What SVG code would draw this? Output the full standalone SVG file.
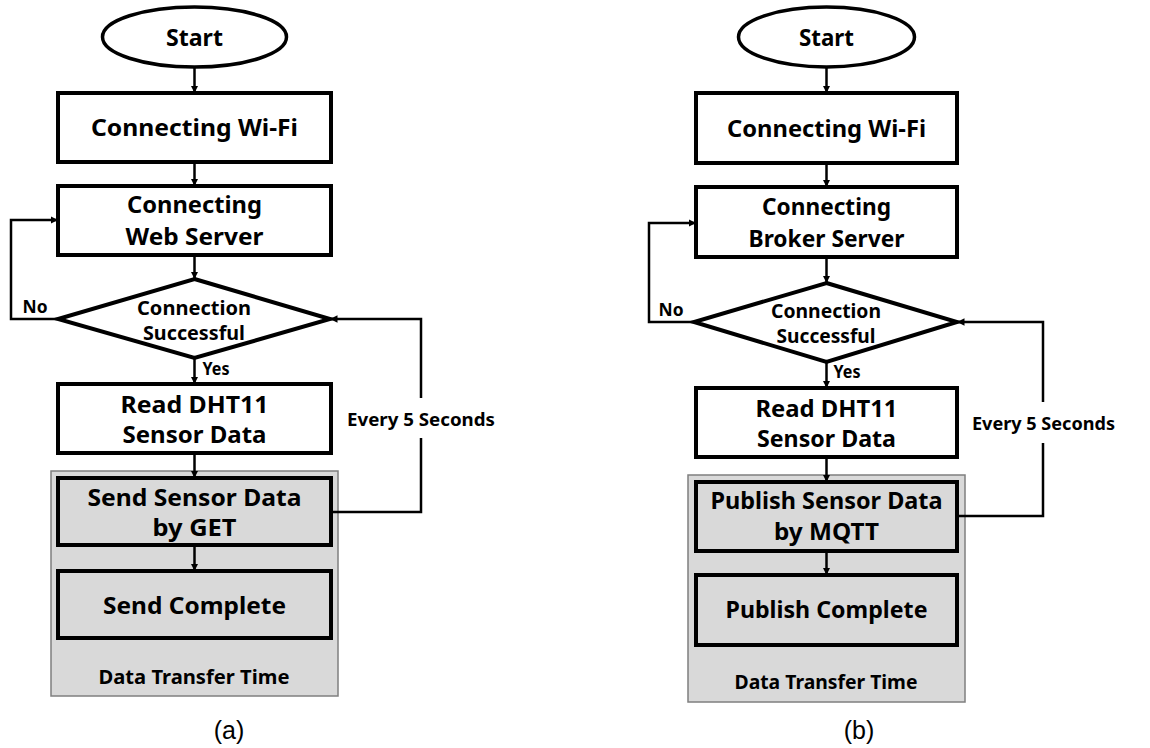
<svg xmlns="http://www.w3.org/2000/svg" width="1150" height="748" viewBox="0 0 1150 748">
<style>
text{font-family:"Noto Sans","Open Sans","Liberation Sans",sans-serif;font-weight:bold;fill:#000;text-anchor:middle}
.box{fill:#fff;stroke:#000;stroke-width:4}
.gbox{fill:#d9d9d9;stroke:#000;stroke-width:4}
.cont{fill:#d9d9d9;stroke:#7f7f7f;stroke-width:1.5}
.term{fill:#fff;stroke:#000;stroke-width:3.5}
.dia{fill:#fff;stroke:#000;stroke-width:4}
.ln{fill:none;stroke:#000;stroke-width:2.5}
.big{font-size:24px}
.mid{font-size:19px}
.sm{font-size:17px}
.cap{font-weight:normal;font-size:25px;font-family:"Liberation Sans",Arial,sans-serif}
</style>
<defs>
<marker id="ah" viewBox="0 0 10 10" refX="10" refY="5" markerWidth="3" markerHeight="3" markerUnits="strokeWidth" orient="auto">
<path d="M0,0 L10,5 L0,10 z" fill="#000"/>
</marker>
</defs>
<rect width="1150" height="748" fill="#fff"/>

<!-- containers -->
<g id="cont-a"><rect class="cont" x="51" y="471" width="287" height="225"/><text class="mid" x="194" y="684" textLength="191" lengthAdjust="spacingAndGlyphs">Data Transfer Time</text></g>
<g id="cont-b"><rect class="cont" x="688" y="475" width="277" height="227"/><text class="mid" x="826" y="689" textLength="183" lengthAdjust="spacingAndGlyphs">Data Transfer Time</text></g>

<g id="connectors">
<!-- a -->
<line class="ln" x1="194.5" y1="67" x2="194.5" y2="93" marker-end="url(#ah)"/>
<line class="ln" x1="194.5" y1="162" x2="194.5" y2="186" marker-end="url(#ah)"/>
<line class="ln" x1="194.5" y1="255" x2="194.5" y2="279" marker-end="url(#ah)"/>
<line class="ln" x1="194.5" y1="358" x2="194.5" y2="384" marker-end="url(#ah)"/>
<line class="ln" x1="194.5" y1="453" x2="194.5" y2="478" marker-end="url(#ah)"/>
<line class="ln" x1="194.5" y1="545" x2="194.5" y2="571" marker-end="url(#ah)"/>
<polyline class="ln" points="58,319 11,319 11,220 58,220" marker-end="url(#ah)"/>
<polyline class="ln" points="331,512 421,512 421,438"/>
<polyline class="ln" points="421,398 421,319 330,319" marker-end="url(#ah)"/>
<!-- b -->
<line class="ln" x1="826.5" y1="67" x2="826.5" y2="93" marker-end="url(#ah)"/>
<line class="ln" x1="826.5" y1="163" x2="826.5" y2="187" marker-end="url(#ah)"/>
<line class="ln" x1="826.5" y1="257" x2="826.5" y2="283" marker-end="url(#ah)"/>
<line class="ln" x1="826.5" y1="362" x2="826.5" y2="388" marker-end="url(#ah)"/>
<line class="ln" x1="826.5" y1="457" x2="826.5" y2="482" marker-end="url(#ah)"/>
<line class="ln" x1="826.5" y1="551" x2="826.5" y2="575" marker-end="url(#ah)"/>
<polyline class="ln" points="694,322 649,322 649,223 696,223" marker-end="url(#ah)"/>
<polyline class="ln" points="957,516 1043,516 1043,443"/>
<polyline class="ln" points="1043,402 1043,322 957,322" marker-end="url(#ah)"/>
<text class="sm" x="35" y="313" textLength="25" lengthAdjust="spacingAndGlyphs">No</text>
<text class="sm" x="216" y="375" textLength="27" lengthAdjust="spacingAndGlyphs">Yes</text>
<text class="sm" x="421" y="426" textLength="148" lengthAdjust="spacingAndGlyphs">Every 5 Seconds</text>
<text class="sm" x="671" y="316" textLength="25" lengthAdjust="spacingAndGlyphs">No</text>
<text class="sm" x="847" y="378" textLength="27" lengthAdjust="spacingAndGlyphs">Yes</text>
<text class="sm" x="1043.5" y="430" textLength="143" lengthAdjust="spacingAndGlyphs">Every 5 Seconds</text>
</g>

<!-- (a) nodes -->
<g id="a-start"><ellipse class="term" cx="194.5" cy="37" rx="92" ry="30"/><text class="big" x="194.5" y="46" textLength="57" lengthAdjust="spacingAndGlyphs">Start</text></g>
<g id="a-wifi"><rect class="box" x="58" y="93" width="273" height="69"/><text class="big" x="194.5" y="136" textLength="207" lengthAdjust="spacingAndGlyphs">Connecting Wi-Fi</text></g>
<g id="a-web"><rect class="box" x="58" y="186" width="273" height="69"/><text class="big" x="194.5" y="213" textLength="135" lengthAdjust="spacingAndGlyphs">Connecting</text><text class="big" x="194.5" y="245" textLength="138" lengthAdjust="spacingAndGlyphs">Web Server</text></g>
<g id="a-dec"><polygon class="dia" points="194.5,279 330,319 194.5,358 58,319"/><text class="mid" x="194" y="315" textLength="114" lengthAdjust="spacingAndGlyphs">Connection</text><text class="mid" x="194" y="340" textLength="102" lengthAdjust="spacingAndGlyphs">Successful</text></g>
<g id="a-read"><rect class="box" x="58" y="384" width="273" height="69"/><text class="big" x="194.5" y="413" textLength="148" lengthAdjust="spacingAndGlyphs">Read DHT11</text><text class="big" x="194.5" y="443" textLength="144" lengthAdjust="spacingAndGlyphs">Sensor Data</text></g>
<g id="a-send"><rect class="gbox" x="58" y="478" width="273" height="67"/><text class="big" x="194.5" y="506" textLength="214" lengthAdjust="spacingAndGlyphs">Send Sensor Data</text><text class="big" x="194.5" y="536" textLength="84" lengthAdjust="spacingAndGlyphs">by GET</text></g>
<g id="a-done"><rect class="gbox" x="58" y="571" width="273" height="67"/><text class="big" x="194.5" y="614" textLength="183" lengthAdjust="spacingAndGlyphs">Send Complete</text></g>
<text class="cap" x="229" y="739">(a)</text>

<!-- (b) nodes -->
<g id="b-start"><ellipse class="term" cx="826.5" cy="37" rx="88" ry="30"/><text class="big" x="826.5" y="46" textLength="55" lengthAdjust="spacingAndGlyphs">Start</text></g>
<g id="b-wifi"><rect class="box" x="696" y="93" width="261" height="70"/><text class="big" x="826.5" y="137" textLength="199" lengthAdjust="spacingAndGlyphs">Connecting Wi-Fi</text></g>
<g id="b-broker"><rect class="box" x="696" y="187" width="261" height="70"/><text class="big" x="826.5" y="215" textLength="129" lengthAdjust="spacingAndGlyphs">Connecting</text><text class="big" x="826.5" y="247" textLength="156" lengthAdjust="spacingAndGlyphs">Broker Server</text></g>
<g id="b-dec"><polygon class="dia" points="826.5,283 957,322 826.5,362 694,322"/><text class="mid" x="826" y="318" textLength="110" lengthAdjust="spacingAndGlyphs">Connection</text><text class="mid" x="826" y="343" textLength="99" lengthAdjust="spacingAndGlyphs">Successful</text></g>
<g id="b-read"><rect class="box" x="696" y="388" width="261" height="69"/><text class="big" x="826.5" y="417" textLength="142" lengthAdjust="spacingAndGlyphs">Read DHT11</text><text class="big" x="826.5" y="447" textLength="139" lengthAdjust="spacingAndGlyphs">Sensor Data</text></g>
<g id="b-pub"><rect class="gbox" x="696" y="482" width="261" height="69"/><text class="big" x="826.5" y="509" textLength="232" lengthAdjust="spacingAndGlyphs">Publish Sensor Data</text><text class="big" x="826.5" y="540" textLength="105" lengthAdjust="spacingAndGlyphs">by MQTT</text></g>
<g id="b-done"><rect class="gbox" x="696" y="575" width="261" height="70"/><text class="big" x="826.5" y="618" textLength="202" lengthAdjust="spacingAndGlyphs">Publish Complete</text></g>
<text class="cap" x="859" y="739">(b)</text>
</svg>
